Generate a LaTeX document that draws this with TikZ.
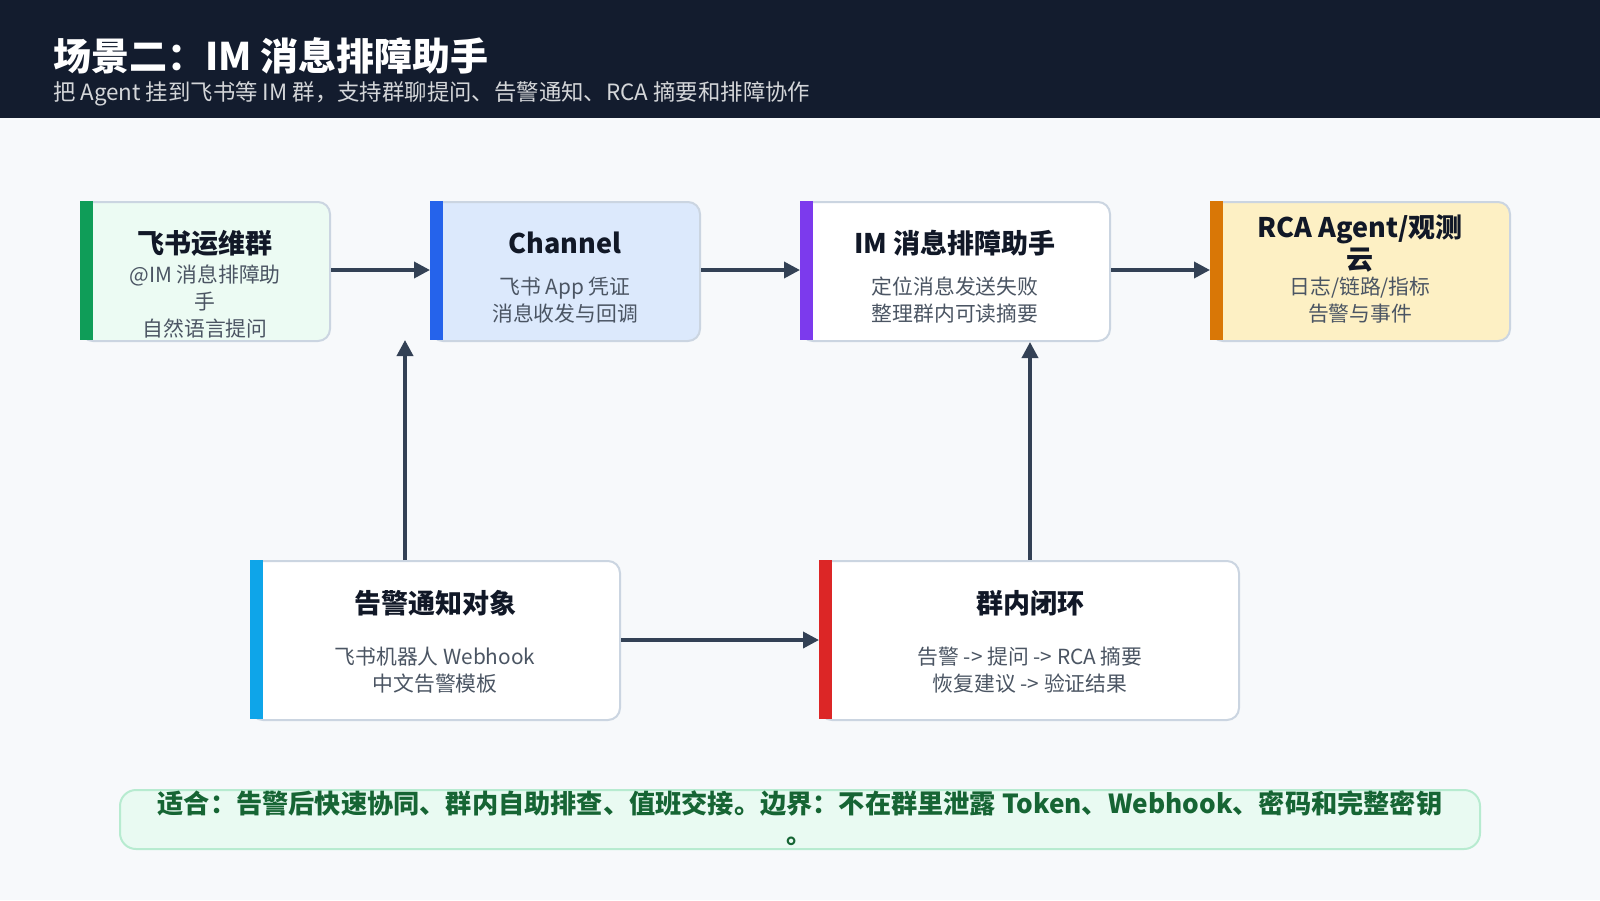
\documentclass[tikz,border=0pt]{standalone}
\usepackage{fontspec}
\setmainfont{Noto Sans CJK SC}
\usetikzlibrary{arrows.meta}
\definecolor{navy}{HTML}{131C2E}
\definecolor{bg}{HTML}{F7F9FB}
\definecolor{ttl}{HTML}{111827}
\definecolor{sub}{HTML}{4B5563}
\definecolor{edge}{HTML}{CBD5E1}
\definecolor{arr}{HTML}{334155}
\definecolor{cg}{HTML}{0F9D58}
\definecolor{cb}{HTML}{2563EB}
\definecolor{cp}{HTML}{7C3AED}
\definecolor{co}{HTML}{D97706}
\definecolor{cs}{HTML}{0EA5E9}
\definecolor{cr}{HTML}{DC2626}
\definecolor{fa}{HTML}{ECFBF3}
\definecolor{fb}{HTML}{DCE9FC}
\definecolor{fd}{HTML}{FDF0C4}
\definecolor{nf}{HTML}{E9FAF2}
\definecolor{nd}{HTML}{B7EBD0}
\definecolor{nt}{HTML}{166534}
\begin{document}
\begin{tikzpicture}[x=0.5pt,y=-0.5pt,
  box/.style={draw=edge,line width=1pt,rounded corners=6pt,inner sep=0pt,anchor=north west},
  t/.style={font=\fontsize{13.5}{16}\selectfont\bfseries,text=ttl,align=center},
  s/.style={font=\fontsize{10.4}{13.5}\selectfont,text=sub,align=center},
  ar/.style={draw=arr,line width=1.8pt,-{Triangle[length=8pt,width=8pt]}}]
\useasboundingbox (0,0) rectangle (1600,900);
\fill[bg] (0,0) rectangle (1600,900);
\fill[navy] (0,0) rectangle (1600,118);
\node[anchor=west,text=white,font=\fontsize{19}{22}\selectfont\bfseries] (title) at (46,56) {场景二：IM 消息排障助手};
\node[anchor=west,text=white!82!navy,font=\fontsize{11.2}{13}\selectfont] (subt) at (46,94) {把 Agent 挂到飞书等 IM 群，支持群聊提问、告警通知、RCA 摘要和排障协作};
% boxes (sizes in pt = px/2)
\node[box,fill=fa,minimum width=124.5pt,minimum height=69.5pt] (A) at (80,201) {};
\node[box,fill=fb,minimum width=134.5pt,minimum height=69.5pt] (B) at (430,201) {};
\node[box,fill=white,minimum width=154.5pt,minimum height=69.5pt] (C) at (800,201) {};
\node[box,fill=fd,minimum width=149.5pt,minimum height=69.5pt] (D) at (1210,201) {};
\node[box,fill=white,minimum width=184.5pt,minimum height=79.5pt] (E) at (250,560) {};
\node[box,fill=white,minimum width=209.5pt,minimum height=79.5pt] (F) at (819,560) {};
\fill[cg] (80,201) rectangle (93,340);
\fill[cb] (430,201) rectangle (443,340);
\fill[cp] (800,201) rectangle (813,340);
\fill[co] (1210,201) rectangle (1223,340);
\fill[cs] (250,560) rectangle (263,719);
\fill[cr] (819,560) rectangle (832,719);
% texts
\node[t] (at) at (205,243) {飞书运维群};
\node[s,anchor=north] (as) at (205,258) {@IM 消息排障助\\手\\自然语言提问};
\node[t] (bt) at (565,243) {Channel};
\node[s] (bs) at (565,300) {飞书 App 凭证\\消息收发与回调};
\node[t] (ct) at (955,243) {IM 消息排障助手};
\node[s] (cs) at (955,300) {定位消息发送失败\\整理群内可读摘要};
\node[t] (dt) at (1360,243) {RCA Agent/观测\\云};
\node[s] (ds) at (1360,300) {日志/链路/指标\\告警与事件};
\node[t] (et) at (435,603) {告警通知对象};
\node[s] (es) at (435,670) {飞书机器人 Webhook\\中文告警模板};
\node[t] (ft) at (1030,603) {群内闭环};
\node[s] (fs) at (1030,670) {告警 -> 提问 -> RCA 摘要\\恢复建议 -> 验证结果};
% arrows
\draw[ar] (A.east |- 0,270) -- (B.west |- 0,270);
\draw[ar] (B.east |- 0,270) -- (C.west |- 0,270);
\draw[ar] (C.east |- 0,270) -- (D.west |- 0,270);
\coordinate (ein) at (405,340);
\draw[ar] (E.north -| ein) -- (ein);
\draw[ar] (E.east |- 0,640) -- (F.west |- 0,640);
\draw[ar] (F.north -| 1030,0) -- (C.south -| 1030,0);
% note
\draw[fill=nf,draw=nd,line width=1pt,rounded corners=8pt] (120,790) rectangle (1480,849);
\node[font=\fontsize{13.1}{15}\selectfont\bfseries,text=nt,align=center] (note) at (800,818) {适合：告警后快速协同、群内自助排查、值班交接。边界：不在群里泄露 Token、Webhook、密码和完整密钥\\。};
\end{tikzpicture}
\end{document}
